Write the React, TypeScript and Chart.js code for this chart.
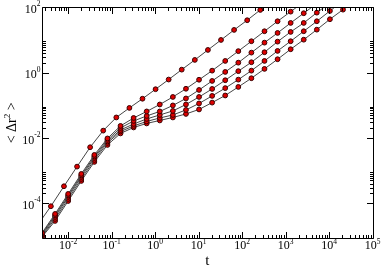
import React, { useEffect, useRef } from 'react';
import { Chart, registerables } from 'chart.js';

Chart.register(...registerables);

// time grids
const tTop = [0.002, 0.004, 0.008, 0.016, 0.032, 0.064, 0.128, 0.256, 0.512, 1.024, 2.048, 4.096, 8.192, 16.384, 32.768, 65.536, 131.072, 262.144, 524.288];
const tLow = [0.0025, 0.005, 0.01, 0.02, 0.04, 0.08, 0.16, 0.32, 0.64, 1.28, 2.56, 5.12, 10.24, 20.48, 40.96, 81.92, 163.84, 327.68, 655.36, 1310.72, 2621.44, 5242.88, 10485.76, 20971.52, 41943.04];

// mean squared displacement series
const msd1 = [2.2e-5, 8.14e-5, 3.33e-4, 1.33e-3, 5.21e-3, 0.0168, 0.0425, 0.0831, 0.159, 0.311, 0.615, 1.236, 2.45, 4.95, 10.0, 20.3, 40.2, 83, 168];
const msd2 = [1.24e-5, 4.73e-5, 1.94e-4, 7.93e-4, 3.03e-3, 9.68e-3, 0.0234, 0.041, 0.0649, 0.106, 0.18, 0.321, 0.606, 1.15, 2.28, 4.55, 9.14, 18.5, 37.4, 73.6, 146];
const msd3 = [1.16e-5, 4.26e-5, 1.74e-4, 7.13e-4, 2.72e-3, 8.71e-3, 0.0203, 0.0332, 0.0473, 0.0649, 0.0991, 0.162, 0.295, 0.557, 1.05, 2.02, 4.1, 8.28, 16.4, 33.2, 65.8, 131];
const msd4 = [1.08e-5, 3.83e-5, 1.57e-4, 6.41e-4, 2.45e-3, 7.83e-3, 0.0176, 0.0269, 0.0383, 0.0507, 0.0673, 0.106, 0.18, 0.317, 0.585, 1.11, 2.08, 4.21, 8.89, 17.6, 33.2, 68.7, 136];
const msd5 = [1.0e-5, 3.33e-5, 1.36e-4, 5.57e-4, 2.13e-3, 7.05e-3, 0.0158, 0.0234, 0.0321, 0.041, 0.0507, 0.0721, 0.114, 0.194, 0.336, 0.611, 1.15, 2.28, 4.62, 9.14, 18.5, 37.4, 77.4, 157];
const msd6 = [9.35e-6, 2.89e-5, 1.18e-4, 4.84e-4, 1.85e-3, 6.12e-3, 0.0138, 0.021, 0.0279, 0.0344, 0.0425, 0.0544, 0.0748, 0.121, 0.2, 0.365, 0.674, 1.3, 2.57, 5.2, 10.2, 20.7, 43.1, 84.8, 168];

// axes
const X_MIN = 0.0025;
const X_MAX = 1e5;
const Y_MIN = 8.5e-6;
const Y_MAX = 100;
const xMajor = [0.01, 0.1, 1, 10, 100, 1000, 10000, 100000];
const xMajorExp = ['-2', '-1', '0', '1', '2', '3', '4', '5'];
const xMinorDecades = [0.001, 0.01, 0.1, 1, 10, 100, 1000, 10000];
const yMajor = [100, 1, 0.01, 0.0001];
const yMajorExp = ['2', '0', '-2', '-4'];
const yMinorDecades = [0.0001, 0.01, 1];
const minorMult = [2, 3, 4, 5, 6, 7, 8, 9];

const FONT = '"Liberation Serif", "Times New Roman", serif';

function pts(ts: number[], vs: number[]) {
  return vs.map((v, i) => ({ x: ts[i], y: v }));
}

const axesPlugin = {
  id: 'xmgraceAxes',
  afterDatasetsDraw(chart: any) {
    const { ctx, chartArea } = chart;
    const xs = chart.scales.x;
    const ys = chart.scales.y;
    const L = Math.round(chartArea.left) + 0.5;
    const R = Math.round(chartArea.right) + 0.5;
    const T = Math.round(chartArea.top) + 0.5;
    const B = Math.round(chartArea.bottom) + 0.5;
    ctx.save();
    ctx.strokeStyle = '#000';
    ctx.lineWidth = 1;
    ctx.beginPath();
    ctx.rect(L, T, R - L, B - T);
    ctx.stroke();

    const MAJ = 6.5;
    const MIN = 3.5;
    ctx.beginPath();
    const xTick = (v: number, len: number) => {
      if (v < X_MIN || v > X_MAX) return;
      const px = Math.round(xs.getPixelForValue(v)) + 0.5;
      ctx.moveTo(px, B); ctx.lineTo(px, B - len);
      ctx.moveTo(px, T); ctx.lineTo(px, T + len);
    };
    const yTick = (v: number, len: number) => {
      if (v < Y_MIN || v > Y_MAX) return;
      const py = Math.round(ys.getPixelForValue(v)) + 0.5;
      ctx.moveTo(L, py); ctx.lineTo(L + len, py);
      ctx.moveTo(R, py); ctx.lineTo(R - len, py);
    };
    xMajor.forEach((v) => xTick(v, MAJ));
    xMinorDecades.forEach((d) => minorMult.forEach((m) => xTick(d * m, MIN)));
    yMajor.forEach((v) => yTick(v, MAJ));
    yMinorDecades.forEach((d) => minorMult.forEach((m) => yTick(d * m, MIN)));
    ctx.stroke();

    // tick labels
    ctx.fillStyle = '#000';
    ctx.textBaseline = 'alphabetic';
    const baseFont = `12px ${FONT}`;
    const expFont = `7.5px ${FONT}`;
    xMajor.forEach((v, i) => {
      const px = xs.getPixelForValue(v);
      ctx.font = baseFont;
      const wb = ctx.measureText('10').width;
      ctx.font = expFont;
      const we = ctx.measureText(xMajorExp[i]).width;
      const x0 = px - (wb + we) / 2;
      ctx.textAlign = 'left';
      ctx.font = baseFont;
      ctx.fillText('10', x0, chartArea.bottom + 10.7);
      ctx.font = expFont;
      ctx.fillText(xMajorExp[i], x0 + wb, chartArea.bottom + 5.8);
    });
    yMajor.forEach((v, i) => {
      const py = ys.getPixelForValue(v);
      ctx.font = baseFont;
      const wb = ctx.measureText('10').width;
      ctx.font = expFont;
      const we = ctx.measureText(yMajorExp[i]).width;
      const xr = chartArea.left - 1.5;
      ctx.textAlign = 'left';
      ctx.font = baseFont;
      ctx.fillText('10', xr - we - wb, py + 5.6);
      ctx.font = expFont;
      ctx.fillText(yMajorExp[i], xr - we, py - 1);
    });

    // axis titles
    ctx.font = `15px ${FONT}`;
    ctx.textAlign = 'center';
    ctx.fillText('t', (chartArea.left + chartArea.right) / 2, 264.5);

    ctx.save();
    const cy = (chartArea.top + chartArea.bottom) / 2;
    ctx.translate(16, cy);
    ctx.rotate(-Math.PI / 2);
    const big = `14px ${FONT}`;
    const small = `9px ${FONT}`;
    ctx.font = big;
    const w1 = ctx.measureText('< \u0394r').width;
    const w3 = ctx.measureText(' >').width;
    ctx.font = small;
    const w2 = ctx.measureText('2').width;
    let x = -(w1 + w2 + w3) / 2;
    ctx.textAlign = 'left';
    ctx.font = big;
    ctx.fillText('< \u0394r', x, 0);
    x += w1;
    ctx.font = small;
    ctx.fillText('2', x, -6);
    x += w2;
    ctx.font = big;
    ctx.fillText(' >', x, 0);
    ctx.restore();

    ctx.restore();
  },
};

export default function App() {
  const ref = useRef<HTMLCanvasElement | null>(null);
  useEffect(() => {
    document.body.style.margin = '0';
    const canvas = ref.current;
    if (!canvas) return;
    const style = {
      borderColor: '#454545',
      borderWidth: 1,
      pointRadius: 2.4,
      pointBorderWidth: 1,
      pointBackgroundColor: '#dd0000',
      pointBorderColor: '#3a0000',
      tension: 0,
      fill: false,
    };
    const chart = new Chart(canvas, {
      type: 'line',
      data: {
        datasets: [
          { label: 'msd1', data: pts(tTop, msd1), ...style },
          { label: 'msd2', data: pts(tLow, msd2), ...style },
          { label: 'msd3', data: pts(tLow, msd3), ...style },
          { label: 'msd4', data: pts(tLow, msd4), ...style },
          { label: 'msd5', data: pts(tLow, msd5), ...style },
          { label: 'msd6', data: pts(tLow, msd6), ...style },
        ],
      },
      options: {
        animation: false,
        responsive: false,
        devicePixelRatio: 1,
        layout: { padding: { left: 42, right: 9.5, top: 7.3, bottom: 29.7 } },
        plugins: { legend: { display: false }, tooltip: { enabled: false } },
        scales: {
          x: { type: 'logarithmic', min: X_MIN, max: X_MAX, display: false },
          y: { type: 'logarithmic', min: Y_MIN, max: Y_MAX, display: false },
        },
      },
      plugins: [axesPlugin],
    });
    return () => chart.destroy();
  }, []);
  return <canvas ref={ref} width={382} height={268} style={{ display: 'block' }} />;
}
